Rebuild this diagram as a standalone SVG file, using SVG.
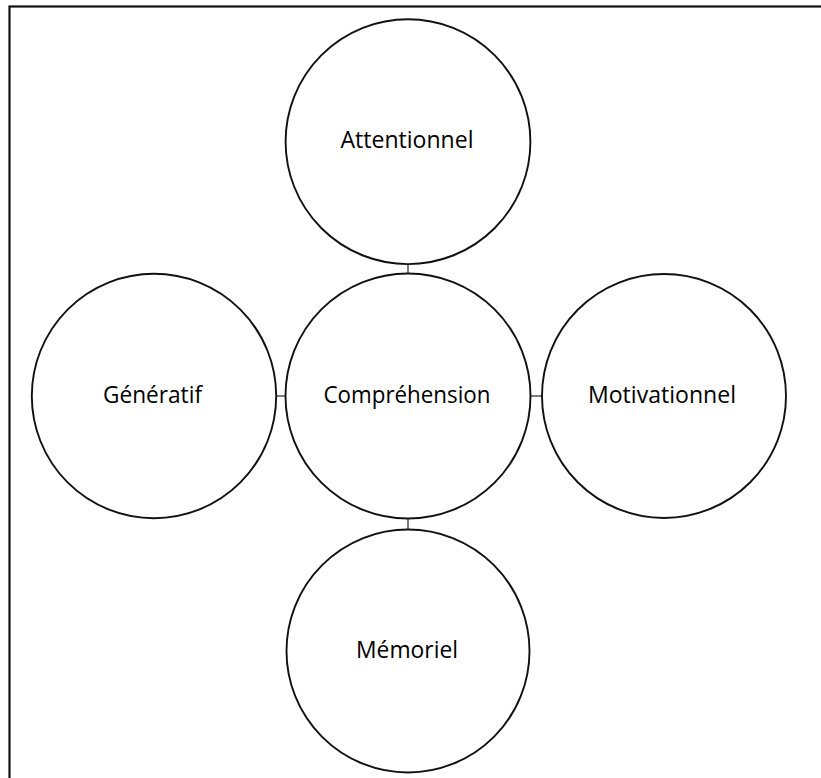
<svg xmlns="http://www.w3.org/2000/svg" width="821" height="778" viewBox="0 0 821 778">
<style>
.node circle{fill:#fff;stroke:#111;stroke-width:1.9}
.node text{font-family:"Open Sans","Noto Sans",sans-serif;font-size:24px;fill:#000;text-anchor:middle}
.conn line{stroke:#333;stroke-width:1.3}
</style>
<rect x="0" y="0" width="821" height="778" fill="#fff"/>
<rect x="9.5" y="6.5" width="900" height="900" fill="none" stroke="#111" stroke-width="2.2"/>
<g class="conn" id="connectors">
<line x1="408" y1="264" x2="408" y2="273.5"/>
<line x1="408" y1="518.5" x2="408" y2="529.5"/>
<line x1="276" y1="396" x2="285.5" y2="396"/>
<line x1="530.5" y1="396" x2="542" y2="396"/>
</g>
<g class="node" id="attentionnel"><circle cx="408" cy="141.7" r="122.4"/><text x="407" y="148" textLength="133" lengthAdjust="spacingAndGlyphs">Attentionnel</text></g>
<g class="node" id="comprehension"><circle cx="408" cy="396" r="122.5"/><text x="407" y="403" textLength="167" lengthAdjust="spacingAndGlyphs">Compréhension</text></g>
<g class="node" id="generatif"><circle cx="154" cy="396" r="122.2"/><text x="152.5" y="403" textLength="99" lengthAdjust="spacingAndGlyphs">Génératif</text></g>
<g class="node" id="motivationnel"><circle cx="664" cy="396" r="122"/><text x="662" y="403" textLength="148" lengthAdjust="spacingAndGlyphs">Motivationnel</text></g>
<g class="node" id="memoriel"><circle cx="408" cy="651" r="121.5"/><text x="407" y="658" textLength="102" lengthAdjust="spacingAndGlyphs">Mémoriel</text></g>
</svg>
